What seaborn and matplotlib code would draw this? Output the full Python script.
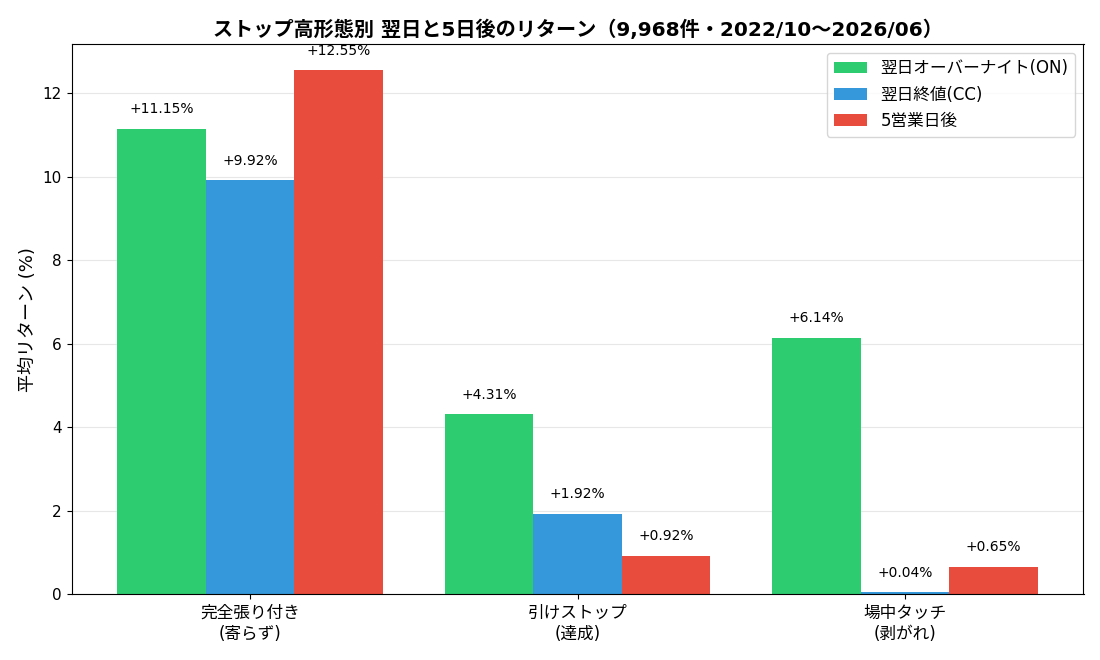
import pandas as pd
import numpy as np
import seaborn as sns
import matplotlib.pyplot as plt

plt.rcParams["font.family"] = ["DejaVu Sans", "Noto Sans CJK JP"]

# data
categories = ["完全張り付き\n(寄らず)", "引けストップ\n(達成)", "場中タッチ\n(剥がれ)"]
series = ["翌日オーバーナイト(ON)", "翌日終値(CC)", "5営業日後"]
on_vals = [11.15, 4.31, 6.14]
cc_vals = [9.92, 1.92, 0.04]
d5_vals = [12.55, 0.92, 0.65]
colors = ["#2ecc71", "#3498db", "#e74c3c"]

df = pd.DataFrame({
    "pattern": categories * 3,
    "series": np.repeat(series, 3),
    "ret": on_vals + cc_vals + d5_vals,
})

fig, ax = plt.subplots(figsize=(11, 6.6), dpi=100)
sns.barplot(
    data=df, x="pattern", y="ret", hue="series",
    order=categories, hue_order=series, palette=colors,
    width=0.81, saturation=1, ax=ax, errorbar=None,
)

for cont in ax.containers:
    for bar in cont:
        h = bar.get_height()
        ax.text(bar.get_x() + bar.get_width() / 2, h + 0.3, f"+{h:.2f}%",
                ha="center", va="bottom", fontsize=10)

ax.set_xlim(-0.545, 2.545)
ax.set_ylim(0, 13.18)
ax.set_xlabel("")
ax.set_ylabel("平均リターン (%)", fontsize=13)
ax.set_title("ストップ高形態別 翌日と5日後のリターン（9,968件・2022/10〜2026/06）",
             fontsize=14.5, fontweight="bold")
ax.tick_params(axis="x", labelsize=12)
ax.tick_params(axis="y", labelsize=11)
ax.grid(axis="y", alpha=0.3)
ax.set_axisbelow(True)
ax.legend(loc="upper right", fontsize=12)

fig.subplots_adjust(left=0.065, right=0.985, top=0.933, bottom=0.1)
fig.savefig("out.png", dpi=100)
